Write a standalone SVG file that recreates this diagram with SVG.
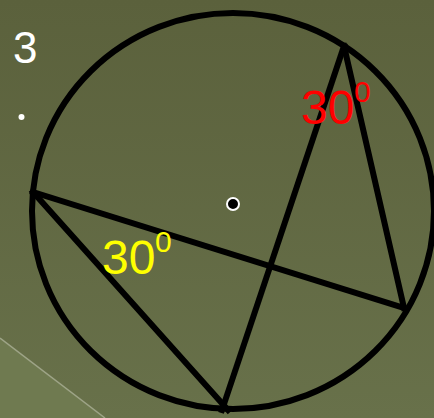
<svg xmlns="http://www.w3.org/2000/svg" width="434" height="418" viewBox="0 0 434 418">
<defs>
<linearGradient id="bg" x1="0" y1="0" x2="0" y2="1">
<stop offset="0" stop-color="#5b613c"/>
<stop offset="1" stop-color="#68714a"/>
</linearGradient>
<style>
.ln{stroke:#000;stroke-width:6;fill:none;stroke-linecap:square}
.t{font-family:"Liberation Sans",Arial,sans-serif}
</style>
</defs>
<rect width="434" height="418" fill="url(#bg)"/>
<polygon points="0,338 105,418 0,418" fill="#6f7a50"/>
<line x1="0" y1="338" x2="105" y2="418" stroke="#9ea487" stroke-width="1.5"/>
<g id="labels">
<text class="t" x="13" y="63" font-size="44" fill="#fff">3</text>
<circle cx="21.5" cy="117" r="3" fill="#fff"/>
</g>
<g id="circle">
<ellipse cx="233" cy="211" rx="201" ry="198" class="ln" stroke-width="5.5"/>
</g>
<g id="connectors">
<line class="ln" x1="33" y1="192" x2="404" y2="308"/>
<line class="ln" x1="33" y1="192" x2="228" y2="410"/>
<line class="ln" x1="344" y1="46" x2="222" y2="410"/>
<line class="ln" x1="344" y1="46" x2="404" y2="308"/>
</g>
<g id="center">
<circle cx="233" cy="204" r="6" fill="#000" stroke="#fff" stroke-width="2"/>
</g>
<g id="angle-red">
<text class="t" x="301" y="124" font-size="48" fill="#ff0000">30</text>
<text class="t" x="354" y="102" font-size="30" fill="#ff0000">0</text>
</g>
<g id="angle-yellow">
<text class="t" x="102" y="274" font-size="48" fill="#ffff00">30</text>
<text class="t" x="155" y="252" font-size="30" fill="#ffff00">0</text>
</g>
</svg>
